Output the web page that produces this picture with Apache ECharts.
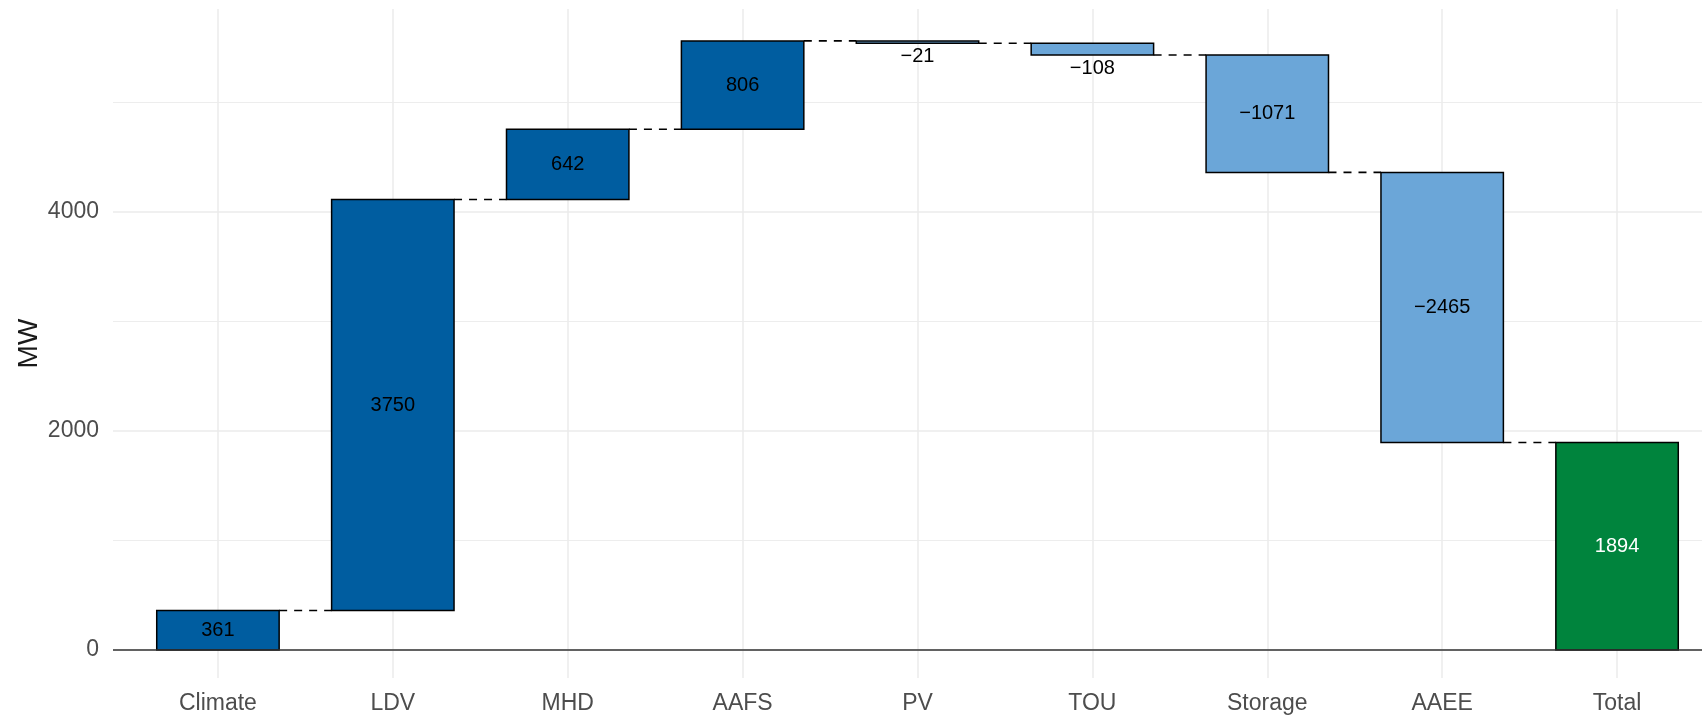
<!DOCTYPE html>
<html>
<head>
<meta charset="utf-8">
<title>waterfall</title>
<script src="https://cdn.jsdelivr.net/npm/echarts@6/dist/echarts.min.js"></script>
<style>
html, body { margin: 0; padding: 0; background: #fff; }
#chart { width: 1702px; height: 718px; }
</style>
</head>
<body>
<div id="chart"></div>
<script>
// 数据
var categories = ["Climate", "LDV", "MHD", "AAFS", "PV", "TOU", "Storage", "AAEE", "Total"];
var deltas = [361, 3750, 642, 806, -21, -108, -1071, -2465];
var total = 1894;
var yMajorTicks = [0, 2000, 4000];
var yMinorTicks = [1000, 3000, 5000];

var FONT = '"Liberation Sans", Arial, sans-serif';
var fills = ["#005DA0", "#6BA6D8", "#00843D"]; // 增加, 减少, 合计

// [x, low, high, value, kind, end]
var bars = [];
var run = 0;
deltas.forEach(function (d, i) {
    var start = run;
    run += d;
    bars.push([i, Math.min(start, run), Math.max(start, run), d, d >= 0 ? 0 : 1, run]);
});
bars.push([deltas.length, 0, total, total, 2, total]);

function fmt(v) {
    return v < 0 ? "\u2212" + Math.abs(v) : String(v);
}

function renderItem(params, api) {
    var x = api.value(0), lo = api.value(1), hi = api.value(2);
    var v = api.value(3), kind = api.value(4), end = api.value(5);
    var p1 = api.coord([x - 0.35, hi]);
    var p2 = api.coord([x + 0.35, lo]);
    var h = p2[1] - p1[1];
    var children = [{
        type: "rect",
        shape: { x: p1[0], y: p1[1], width: p2[0] - p1[0], height: h },
        style: { fill: fills[kind], stroke: "#000", lineWidth: 1.5 }
    }];
    // 小柱子标签放下面
    var ty = h < 24 ? p2[1] + 13 : (p1[1] + p2[1]) / 2;
    children.push({
        type: "text",
        style: {
            text: fmt(v), x: (p1[0] + p2[0]) / 2, y: ty,
            align: "center", verticalAlign: "middle",
            fontSize: 20, fontFamily: FONT,
            fill: kind === 2 ? "#fff" : "#000"
        }
    });
    if (kind !== 2) {
        var c1 = api.coord([x + 0.35, end]);
        var c2 = api.coord([x + 0.65, end]);
        children.push({
            type: "line",
            shape: { x1: c1[0], y1: c1[1], x2: c2[0], y2: c2[1] },
            style: { stroke: "#000", lineWidth: 1.6, lineDash: [8, 7] }
        });
    }
    return { type: "group", children: children };
}

var xTicks = categories.map(function (c, i) { return i; });

var chart = echarts.init(document.getElementById("chart"));
chart.setOption({
    animation: false,
    backgroundColor: "#fff",
    grid: { left: 113, right: -20, top: 9, bottom: 40, outerBoundsMode: "none" },
    xAxis: {
        type: "value",
        min: -0.6,
        max: 8.6,
        axisLine: { show: false },
        axisTick: { show: false, customValues: xTicks },
        axisLabel: {
            customValues: xTicks,
            formatter: function (v) { return categories[v]; },
            fontSize: 23, fontFamily: FONT, color: "#4D4D4D", margin: 14
        },
        splitLine: { show: true, lineStyle: { color: "#EBEBEB", width: 1.5 } }
    },
    yAxis: [{
        type: "value",
        min: -255,
        max: 5850,
        name: "MW",
        nameLocation: "middle",
        nameGap: 70,
        nameMoveOverlap: false,
        nameTextStyle: { fontSize: 28, fontFamily: FONT, color: "#1a1a1a" },
        axisLine: { show: false },
        axisTick: { show: false, customValues: yMajorTicks },
        axisLabel: {
            customValues: yMajorTicks,
            formatter: function (v) { return String(v); },
            fontSize: 23, fontFamily: FONT, color: "#4D4D4D", margin: 14
        },
        splitLine: { show: true, lineStyle: { color: "#EBEBEB", width: 1.5 } }
    }, {
        type: "value",
        min: -255,
        max: 5850,
        position: "left",
        axisLine: { show: false },
        axisTick: { show: false, customValues: yMinorTicks },
        axisLabel: { show: false, customValues: yMinorTicks },
        splitLine: { show: true, lineStyle: { color: "#EDEDED", width: 1.2 } }
    }],
    series: [{
        type: "custom",
        renderItem: renderItem,
        encode: { x: 0, y: [1, 2] },
        data: bars,
        markLine: {
            silent: true,
            symbol: "none",
            label: { show: false },
            lineStyle: { color: "#333", width: 1.5, type: "solid" },
            data: [{ yAxis: 0 }]
        }
    }]
});
</script>
</body>
</html>
